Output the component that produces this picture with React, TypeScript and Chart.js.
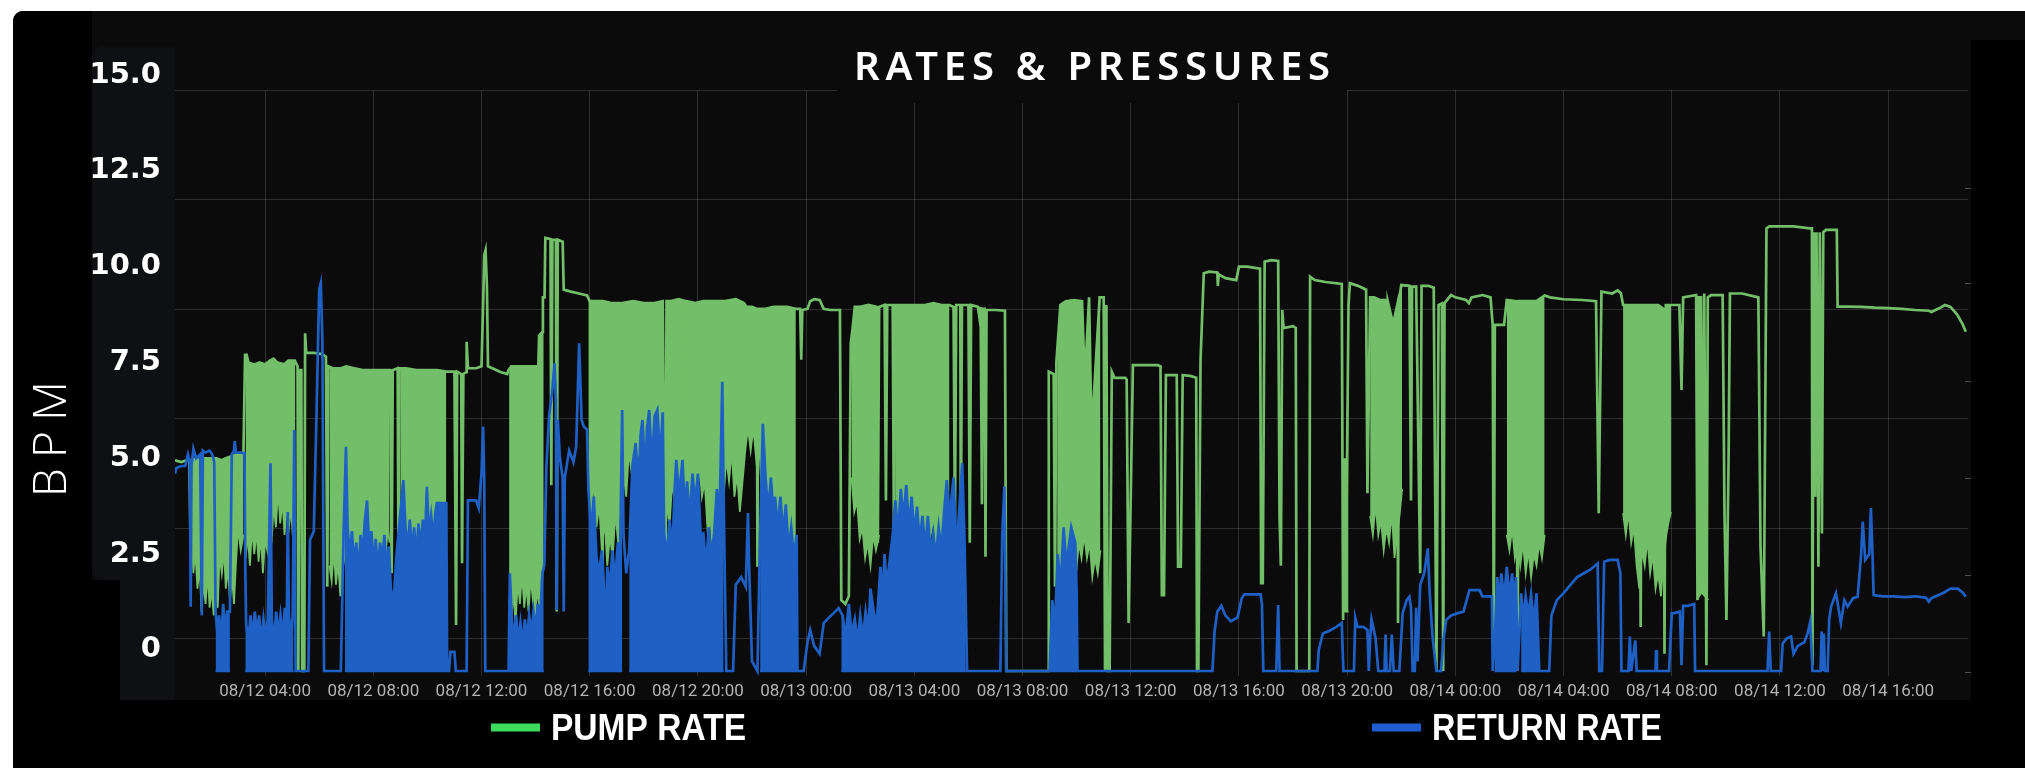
import React, { useEffect, useRef } from 'react';
import { Chart, registerables } from 'chart.js';

Chart.register(...registerables);

type P = [number, number | null];

// x: hours since 08/12 00:00
const xTickHours = [4, 8, 12, 16, 20, 24, 28, 32, 36, 40, 44, 48, 52, 56, 60, 64];
const yTickValues = [0, 2.5, 5, 7.5, 10, 12.5, 15];
const panelGridLevels = [0, 3, 6, 9, 12, 15];
const chartTitle = 'RATES & PRESSURES';
const yAxisTitle = 'BPM';
const seriesNames = ['PUMP RATE', 'RETURN RATE'];

// PUMP RATE trace (upper edge + spikes)
const pumpRate: P[] = [
  [0.67,4.95],[0.9,4.9],[1.1,4.95],[1.2,4.95],[1.24,3.0],[1.28,4.95],[1.45,5.0],[1.7,5.0],[1.95,5.0],[2.2,5.0],[2.4,4.95],[2.55,5.0],[2.75,5.05],[2.95,5.1],[3.2,5.1],[3.26,7.7],[3.32,7.7],[3.38,7.5],[3.6,7.45],[3.8,7.5],[4.0,7.45],[4.18,7.55],[4.31,7.6],[4.45,7.5],[4.7,7.45],[4.86,7.55],[5.1,7.55],[5.2,7.4],[5.23,-0.55],[5.27,7.3],[5.34,7.3],[5.37,-0.55],[5.45,-0.55],[5.48,8.26],[5.52,7.75],[5.8,7.75],[6.1,7.72],[6.25,7.65],[6.3,1.65],[6.34,7.4],[6.5,7.35],[6.8,7.35],[7.0,7.4],[7.3,7.35],[7.6,7.3],[8.0,7.3],[8.4,7.3],[8.62,7.3],[8.68,2.0],[8.72,7.3],[8.9,7.35],[8.93,2.4],[8.97,7.35],[9.2,7.35],[9.6,7.3],[10.0,7.3],[10.35,7.3],[10.7,7.26],[11.0,7.26],[11.06,0.65],[11.1,7.26],[11.25,7.2],[11.28,2.26],[11.33,7.2],[11.43,7.25],[11.45,8.04],[11.5,7.35],
  [11.8,7.35],[12.0,7.4],[12.06,9.0],[12.1,10.3],[12.15,10.43],[12.2,9.5],[12.24,7.4],[12.4,7.35],[12.7,7.25],[12.95,7.2],[13.0,7.3],[13.1,7.4],[13.5,7.4],[13.9,7.4],[14.1,7.4],[14.13,8.2],[14.25,8.3],[14.27,9.2],[14.33,9.2],[14.36,10.75],[14.55,10.72],[14.58,4.3],[14.62,10.7],[14.75,10.7],[14.78,1.0],[14.82,10.7],[15.0,10.65],[15.04,9.4],[15.3,9.35],[15.6,9.3],[15.9,9.25],[16.0,9.1],[16.4,9.1],[16.45,9.1],[16.47,-0.1],[16.5,9.1],[16.8,9.05],[16.84,0.87],[16.88,9.05],[17.2,9.05],[17.6,9.1],[18.0,9.05],[18.18,9.05],[18.2,1.1],[18.23,9.05],[18.4,9.05],[18.7,9.1],[18.8,1.3],[18.84,9.1],[19.0,9.1],[19.3,9.15],[19.53,9.1],[19.55,1.1],[19.58,9.1],[19.9,9.05],[20.2,9.1],[20.38,9.1],[20.4,2.1],[20.43,9.1],[20.6,9.1],[21.0,9.1],[21.4,9.15],[21.7,9.05],[21.8,8.95],[22.0,8.95],[22.18,8.9],[22.2,2.17],[22.23,8.9],[22.5,8.9],[22.8,8.95],
  [23.0,8.95],[23.3,8.95],[23.6,8.9],[23.78,8.9],[23.82,7.57],[23.86,8.87],[24.05,8.9],[24.15,9.1],[24.3,9.15],[24.5,9.13],[24.65,8.9],[24.9,8.87],[25.25,8.87],[25.3,1.3],[25.45,1.2],[25.58,1.4],[25.65,8.0],[25.72,8.4],[25.8,8.95],[26.0,8.95],[26.3,9.0],[26.6,8.95],[26.65,2.8],[26.7,8.95],[26.9,9.0],[26.95,3.9],[27.0,9.0],[27.2,9.0],[27.25,2.6],[27.3,9.0],[27.43,9.0],[27.45,0.17],[27.5,9.0],[27.8,9.0],[28.1,9.0],[28.4,9.0],[28.7,9.05],[29.0,9.0],[29.3,9.0],[29.45,8.95],[29.5,3.3],[29.55,9.0],[29.7,9.0],[29.72,2.6],[29.76,9.0],[30.0,9.0],[30.05,2.8],[30.1,9.0],[30.35,8.95],[30.4,8.7],[30.45,8.95],[30.5,3.8],[30.55,8.9],[30.6,8.9],[30.63,2.43],[30.67,8.87],[31.0,8.87],[31.35,8.85],[31.4,-0.55],[32.95,-0.55],[32.97,7.26],[33.15,7.2],[33.2,1.65],[33.25,7.5],[33.4,9.0],[33.6,9.1],[33.9,9.13],
  [34.2,9.1],[34.3,7.0],[34.46,9.2],[34.55,5.6],[34.7,7.4],[34.85,9.2],[35.0,9.2],[35.05,-0.55],[35.1,9.0],[35.15,-0.55],[35.22,-0.55],[35.3,7.26],[35.4,7.1],[35.8,7.1],[35.85,7.05],[35.92,0.7],[36.0,4.0],[36.08,7.43],[36.5,7.43],[37.0,7.43],[37.1,7.4],[37.15,1.43],[37.23,1.43],[37.3,7.17],[37.7,7.17],[37.75,2.17],[37.85,2.17],[37.92,7.17],[38.2,7.15],[38.42,7.1],[38.45,-0.55],[38.5,-0.55],[38.58,7.57],[38.7,9.83],[38.9,9.87],[39.2,9.85],[39.22,9.5],[39.25,9.8],[39.5,9.7],[39.9,9.65],[40.0,10.0],[40.3,10.0],[40.78,9.95],[40.82,1.74],[40.88,1.74],[40.95,10.13],[41.2,10.17],[41.45,10.15],[41.5,3.48],[41.55,2.2],[41.6,8.87],[41.65,8.4],[42.0,8.45],[42.1,8.4],[42.13,-0.55],[42.6,-0.55],[42.63,9.74],[42.8,9.65],[43.2,9.6],[43.8,9.55],[43.85,0.78],[43.9,5.0],[43.95,1.5],[44.05,9.0],[44.1,9.57],[44.4,9.5],[44.7,9.4],[44.75,4.09],[44.85,9.2],[45.0,9.2],
  [45.2,9.13],[45.4,9.13],[45.45,3.0],[45.5,9.1],[45.7,8.5],[45.85,9.0],[45.88,0.7],[45.92,9.1],[46.0,9.52],[46.3,9.5],[46.36,3.9],[46.4,9.48],[46.55,9.48],[46.7,2.0],[46.75,9.5],[47.0,9.5],[47.2,9.45],[47.3,-0.55],[47.38,9.0],[47.5,9.04],[47.55,-0.55],[47.6,9.05],[47.84,9.26],[48.0,9.2],[48.4,9.13],[48.5,9.05],[48.6,9.2],[49.0,9.26],[49.3,9.2],[49.38,8.48],[49.42,0.17],[49.46,8.48],[49.8,8.48],[49.9,9.13],[50.25,9.1],[50.3,-0.55],[50.35,9.1],[50.6,9.1],[51.0,9.1],[51.3,9.25],[51.5,9.2],[52.0,9.15],[52.7,9.13],[53.2,9.1],[53.3,3.57],[53.4,9.35],[53.8,9.3],[54.0,9.38],[54.12,9.3],[54.2,9.0],[54.5,9.0],[54.8,9.0],[54.85,0.6],[54.9,9.0],[55.2,9.0],[55.5,9.0],[55.7,8.9],[55.73,-0.1],[55.78,9.0],[56.0,9.0],
  [56.28,9.0],[56.36,6.78],[56.42,9.2],[56.9,9.26],[56.95,1.3],[57.0,9.2],[57.08,9.2],[57.12,2.0],[57.2,9.3],[57.28,-0.4],[57.33,9.2],[57.45,9.26],[57.88,9.26],[57.95,3.5],[58.02,0.78],[58.1,5.0],[58.15,9.3],[58.6,9.3],[59.2,9.2],[59.28,2.7],[59.4,0.35],[59.5,11.0],[59.6,11.05],[60.5,11.05],[61.1,11.0],[61.18,11.0],[61.2,-0.4],[61.25,10.9],[61.3,4.0],[61.35,10.9],[61.42,2.17],[61.47,10.9],[61.55,3.04],[61.6,10.9],[61.7,10.96],[62.1,10.96],[62.13,8.96],[62.5,8.96],[63.0,8.95],[63.5,8.93],[64.0,8.92],[64.5,8.9],[65.0,8.87],[65.5,8.85],[65.6,8.82],[65.9,8.92],[66.1,9.0],[66.3,8.95],[66.55,8.75],[66.75,8.5],[66.87,8.3],
];

// PUMP RATE lower edge of the dense oscillation stretches (null = no band)
const pumpRateLow: P[] = [
  [1.28,3.0],[1.35,2.0],[1.42,2.6],[1.5,1.6],[1.58,2.2],[1.65,1.0],[1.72,1.8],[1.8,1.2],[1.88,2.0],[1.95,1.1],[2.02,1.6],[2.1,0.9],[2.18,1.5],[2.25,1.1],[2.32,2.5],[2.4,2.0],[2.48,2.6],[2.55,1.6],[2.62,2.2],[2.7,1.3],[2.78,1.9],[2.85,1.2],[2.92,2.2],[3.0,3.2],[3.1,2.6],[3.2,3.0],[3.23,null],
  [3.28,2.4],[3.36,3.0],[3.44,2.2],[3.52,3.2],[3.6,2.5],[3.68,3.1],[3.76,2.3],[3.84,3.0],[3.92,2.0],[4.0,2.9],[4.08,2.6],[4.16,3.4],[4.24,2.8],[4.32,3.8],[4.4,3.2],[4.48,4.2],[4.56,3.3],[4.64,3.9],[4.72,3.0],[4.8,3.8],[4.88,3.2],[4.96,3.7],[5.04,2.8],[5.12,3.4],[5.15,null],
  [6.38,2.2],[6.46,1.8],[6.54,2.6],[6.62,1.7],[6.7,2.3],[6.78,1.4],[6.86,2.0],[6.94,2.6],[7.02,1.9],[7.1,2.5],[7.18,1.6],[7.26,2.2],[7.34,1.5],[7.42,2.8],[7.5,2.2],[7.58,3.1],[7.66,1.8],[7.74,1.2],[7.82,0.5],[7.9,1.6],[7.98,1.1],[8.06,2.0],[8.14,1.6],[8.22,2.6],[8.3,2.0],[8.38,3.0],[8.46,2.5],[8.54,3.2],[8.6,2.8],[8.8,null],
  [9.0,3.0],[9.08,2.4],[9.16,3.1],[9.24,2.3],[9.32,2.0],[9.4,2.6],[9.48,1.8],[9.56,2.4],[9.64,2.0],[9.72,2.8],[9.8,2.1],[9.88,2.7],[9.96,1.9],[10.04,2.5],[10.12,2.2],[10.2,3.0],[10.28,2.6],[10.36,3.6],[10.45,3.8],[10.55,3.6],[10.7,3.8],[10.8,null],
  [13.02,1.3],[13.1,0.8],[13.18,1.5],[13.26,0.7],[13.34,1.8],[13.42,1.2],[13.5,2.0],[13.58,1.1],[13.66,1.7],[13.74,1.0],[13.82,1.9],[13.9,1.3],[13.98,0.9],[14.06,1.6],[14.14,1.1],[14.22,1.8],[14.3,2.2],[14.4,null],
  [15.95,4.2],[16.05,3.6],[16.15,4.4],[16.25,3.2],[16.35,3.8],[16.45,2.6],[16.55,3.4],[16.65,2.2],[16.75,3.0],[16.85,2.4],[16.95,3.6],[17.05,2.8],[17.15,4.0],[17.25,4.6],[17.35,4.0],[17.45,5.2],[17.55,4.6],[17.65,5.6],[17.75,4.9],[17.85,5.4],[17.95,4.4],[18.05,3.8],[18.15,3.0],[18.25,3.6],[18.35,2.6],[18.45,3.2],[18.55,2.4],[18.65,3.4],[18.75,2.8],[18.85,3.8],[18.95,3.2],[19.05,4.4],[19.15,3.8],[19.25,4.6],[19.35,3.4],[19.45,4.0],[19.55,3.0],[19.65,3.8],[19.75,3.2],[19.85,4.4],[19.95,3.8],[20.05,4.8],[20.15,4.0],[20.25,4.4],[20.35,3.2],[20.45,3.6],[20.55,2.6],[20.65,3.2],[20.75,3.8],[20.85,4.6],[20.95,4.0],[21.05,5.0],[21.15,4.4],[21.25,5.2],[21.35,4.0],[21.45,4.6],[21.55,3.6],[21.65,4.4],[21.75,5.2],[21.85,5.8],[21.95,5.2],[22.05,5.8],[22.15,5.0],[22.25,5.6],[22.35,4.2],[22.45,3.6],[22.55,4.0],[22.65,2.8],[22.75,3.2],[22.85,1.8],[22.95,1.4],[23.05,2.4],[23.15,2.0],[23.25,3.0],[23.35,2.6],[23.45,3.2],[23.55,2.8],[23.62,3.0],[23.65,null],
  [25.68,4.5],[25.78,3.6],[25.88,3.9],[25.98,2.9],[26.08,3.2],[26.18,2.4],[26.28,2.8],[26.38,2.2],[26.48,3.0],[26.58,2.6],[26.7,3.0],[26.8,null],
  [27.3,2.2],[27.4,1.8],[27.5,2.4],[27.6,2.0],[27.7,2.8],[27.8,2.4],[27.9,3.2],[28.0,2.8],[28.1,3.6],[28.2,3.0],[28.3,3.6],[28.4,3.1],[28.5,3.7],[28.6,3.0],[28.7,3.4],[28.8,2.8],[28.9,3.3],[29.0,2.7],[29.1,3.2],[29.2,2.4],[29.3,2.8],[29.4,null],
  [33.28,1.65],[33.38,2.2],[33.48,1.6],[33.58,1.2],[33.68,2.0],[33.78,1.6],[33.88,2.4],[33.98,2.0],[34.08,2.8],[34.18,2.4],[34.28,3.0],[34.38,2.4],[34.48,2.8],[34.58,1.9],[34.68,2.4],[34.78,2.0],[34.88,2.6],[34.95,null],
  [43.82,1.0],[44.05,1.0],[44.08,null],
  [44.85,3.5],[44.95,3.0],[45.05,3.8],[45.15,3.0],[45.25,3.4],[45.35,2.6],[45.45,3.2],[45.55,2.8],[45.65,3.6],[45.75,2.4],[45.85,3.0],[45.95,3.6],[46.03,4.2],[46.06,null],
  [49.9,3.0],[50.0,2.6],[50.1,3.2],[50.2,2.4],[50.3,2.8],[50.4,2.2],[50.5,2.8],[50.6,2.0],[50.7,2.6],[50.8,1.9],[50.9,2.5],[51.0,2.2],[51.1,2.8],[51.2,2.4],[51.3,3.0],[51.35,null],
  [54.2,3.57],[54.3,3.0],[54.4,3.6],[54.5,2.8],[54.6,3.2],[54.7,2.2],[54.8,1.6],[54.9,2.6],[55.0,2.2],[55.1,2.9],[55.2,2.0],[55.3,2.5],[55.4,1.6],[55.5,2.0],[55.6,1.4],[55.7,2.4],[55.8,3.0],[55.9,3.4],[55.97,3.6],[56.0,null],
  [56.92,1.3],[57.1,1.5],[57.35,1.3],
];

// RETURN RATE trace
const returnRate: P[] = [
  [0.67,4.6],[0.72,4.75],[0.9,4.8],[1.05,4.8],[1.15,5.1],[1.22,4.9],[1.25,1.13],[1.28,4.8],[1.35,5.25],[1.45,5.0],[1.6,5.1],[1.66,0.9],[1.7,5.2],[1.8,5.15],[1.95,5.2],[2.05,5.1],[2.12,4.9],[2.17,1.0],[2.24,0.4],[2.3,0.9],[2.38,0.2],[2.45,1.2],[2.52,0.5],[2.6,1.0],[2.7,1.0],[2.77,5.1],[2.85,5.2],[2.88,5.45],[2.92,5.15],[3.1,5.15],[3.24,5.13],[3.27,2.0],[3.3,0.7],[3.38,0.2],[3.46,0.9],[3.54,0.3],[3.62,1.0],[3.7,0.4],[3.78,0.9],[3.86,0.2],[3.94,0.8],[4.02,0.3],[4.1,0.8],[4.2,4.87],[4.25,0.8],[4.33,0.2],[4.41,1.0],[4.49,0.4],[4.57,0.9],[4.65,0.3],[4.73,1.1],[4.8,0.6],[4.84,3.6],[4.88,0.9],[4.96,0.3],[5.02,0.9],[5.08,5.74],[5.13,-0.55],[5.6,-0.55],[5.66,2.87],[5.8,3.1],[5.9,6.1],[6.0,9.4],[6.06,9.57],[6.12,8.0],[6.18,-0.55],[6.8,-0.55],
  [6.9,3.0],[6.99,5.3],[7.05,3.2],[7.13,2.4],[7.21,3.1],[7.29,2.2],[7.37,2.8],[7.45,1.9],[7.53,3.0],[7.61,2.5],[7.69,3.4],[7.77,3.9],[7.85,2.6],[7.93,3.1],[8.01,2.2],[8.09,2.9],[8.17,2.0],[8.25,2.8],[8.33,2.3],[8.41,3.0],[8.49,2.0],[8.57,2.7],[8.65,1.6],[8.75,1.2],[8.85,2.4],[8.95,3.2],[9.03,3.8],[9.11,4.43],[9.19,3.2],[9.27,2.6],[9.35,3.4],[9.43,2.5],[9.51,3.2],[9.59,2.4],[9.67,3.3],[9.75,2.6],[9.83,3.4],[9.91,2.8],[9.98,4.26],[10.06,3.0],[10.14,3.5],[10.22,2.9],[10.3,3.6],[10.35,3.83],[10.7,3.83],[10.73,-0.55],[10.8,-0.55],[10.85,-0.05],[11.0,-0.05],[11.05,-0.55],[11.45,-0.55],[11.5,3.9],[11.8,3.9],[11.9,3.7],[12.0,4.6],[12.06,5.83],[12.1,4.5],[12.14,-0.55],[13.0,-0.55],
  [13.05,2.0],[13.12,0.8],[13.2,0.3],[13.28,0.9],[13.36,0.2],[13.44,0.7],[13.52,0.1],[13.6,0.8],[13.68,0.3],[13.76,0.9],[13.84,0.4],[13.92,1.0],[14.0,0.5],[14.08,1.2],[14.16,0.7],[14.25,2.0],[14.32,2.2],[14.4,4.8],[14.5,6.1],[14.62,6.8],[14.7,7.48],[14.75,6.5],[14.78,1.04],[14.82,6.0],[14.9,5.0],[15.0,4.5],[15.04,1.0],[15.08,4.5],[15.24,5.2],[15.4,4.9],[15.5,5.3],[15.61,8.0],[15.7,6.0],[15.78,5.83],[15.9,5.75],
  [15.95,4.26],[16.05,3.0],[16.15,4.0],[16.25,2.4],[16.35,2.0],[16.45,2.6],[16.55,1.4],[16.6,-0.1],[16.65,2.17],[16.75,1.6],[16.84,2.6],[16.94,1.8],[17.04,2.8],[17.12,2.2],[17.2,6.26],[17.25,3.0],[17.35,2.0],[17.46,2.6],[17.58,4.8],[17.7,5.4],[17.8,4.2],[17.88,5.6],[17.95,6.0],[18.05,4.6],[18.12,5.8],[18.2,6.26],[18.3,4.8],[18.4,6.1],[18.5,6.26],[18.6,5.0],[18.7,6.2],[18.75,3.04],[18.85,2.4],[18.95,3.4],[19.06,2.6],[19.14,4.2],[19.2,4.96],[19.3,4.0],[19.43,4.96],[19.52,3.6],[19.6,4.4],[19.7,3.4],[19.8,4.6],[19.9,3.8],[20.0,4.6],[20.1,3.0],[20.2,3.04],[20.3,2.2],[20.4,3.2],[20.5,2.4],[20.6,3.04],[20.7,4.2],[20.8,3.4],[20.9,7.0],[20.97,3.0],[21.05,-0.55],[21.3,-0.55],[21.4,1.7],[21.6,1.9],[21.77,1.65],[21.85,3.57],[21.9,2.0],[22.0,-0.3],[22.2,-0.55],
  [22.3,3.0],[22.4,5.9],[22.5,4.5],[22.6,3.6],[22.7,4.5],[22.8,3.4],[22.85,4.0],[22.95,3.2],[23.05,4.0],[23.15,3.0],[23.25,3.8],[23.35,2.6],[23.45,3.2],[23.55,2.4],[23.65,3.0],[23.68,-0.55],[23.91,-0.55],[24.05,0.2],[24.15,0.52],[24.3,0.1],[24.5,-0.1],[24.65,0.7],[24.85,0.85],[25.02,0.96],[25.2,1.09],[25.35,0.9],[25.45,0.3],[25.58,1.2],[25.68,0.4],[25.8,0.8],[25.9,0.2],[26.0,0.9],[26.1,0.3],[26.2,1.0],[26.3,0.5],[26.38,1.6],[26.5,1.0],[26.6,0.6],[26.75,2.17],[26.82,1.2],[26.9,2.5],[26.98,1.6],[27.06,2.17],
  [27.2,3.0],[27.3,3.9],[27.4,3.0],[27.5,4.2],[27.6,3.4],[27.7,4.3],[27.8,3.2],[27.9,4.0],[28.0,3.0],[28.1,3.74],[28.2,2.8],[28.3,3.5],[28.4,2.6],[28.5,3.5],[28.6,2.5],[28.7,3.04],[28.8,2.4],[28.9,3.2],[29.0,2.6],[29.1,3.6],[29.2,4.43],[29.3,3.4],[29.45,4.5],[29.52,3.2],[29.6,3.0],[29.77,4.87],[29.85,3.0],[29.95,-0.55],[31.18,-0.55],[31.25,3.0],[31.33,4.26],[31.4,-0.55],[33.0,-0.55],[33.1,1.3],[33.2,0.6],[33.3,2.5],[33.4,1.6],[33.52,3.2],[33.62,2.2],[33.8,3.2],[33.95,2.8],[34.0,1.5],[34.03,-0.55],
  [39.02,-0.55],[39.1,0.5],[39.2,1.0],[39.35,1.15],[39.5,0.9],[39.7,0.75],[39.95,0.85],[40.1,1.35],[40.2,1.45],[40.8,1.45],[40.85,1.2],[40.9,-0.55],[41.38,-0.55],[41.45,1.17],[41.5,-0.55],[42.9,-0.55],[42.95,0.0],[43.1,0.43],[43.35,0.5],[43.6,0.6],[43.8,0.7],[43.86,-0.55],[44.25,-0.55],[44.3,0.83],[44.38,0.6],[44.6,0.6],[44.75,0.52],[44.8,-0.55],[44.85,0.3],[44.9,0.8],[45.05,0.3],[45.15,-0.55],[45.38,-0.55],[45.42,0.4],[45.46,-0.55],[45.58,-0.55],[45.65,0.4],[45.72,-0.55],[45.93,-0.55],[46.05,0.96],[46.2,1.3],[46.3,1.39],[46.36,1.1],[46.42,-0.55],[46.5,-0.55],[46.55,1.1],[46.6,-0.3],[46.7,1.7],[46.85,2.0],[46.98,2.65],[47.05,1.5],[47.15,0.4],[47.3,-0.55],[47.47,-0.55],[47.55,0.2],[47.66,0.78],[47.84,0.9],[48.1,0.96],[48.3,1.0],[48.52,1.56],[48.9,1.56],[49.0,1.4],[49.35,1.4],[49.38,-0.55],
  [49.45,0.2],[49.55,1.9],[49.62,1.2],[49.7,2.0],[49.8,1.3],[49.9,2.17],[50.0,1.4],[50.1,2.0],[50.18,1.2],[50.24,1.9],[50.3,-0.55],[50.43,1.48],[50.52,0.8],[50.6,1.4],[50.7,0.9],[50.8,1.45],[50.9,0.7],[51.0,1.48],[51.1,-0.55],[51.47,-0.55],[51.55,0.9],[51.75,1.3],[52.0,1.48],[52.2,1.65],[52.5,1.9],[52.75,2.0],[53.0,2.1],[53.26,2.26],[53.32,-0.55],[53.42,-0.55],[53.5,2.3],[53.7,2.35],[54.0,2.35],[54.1,2.0],[54.14,-0.55],[54.4,-0.55],[54.45,0.35],[54.5,-0.55],[54.65,0.25],[54.7,-0.55],[55.4,-0.55],[55.42,0.0],[55.45,-0.55],[55.9,-0.55],[56.0,0.96],[56.1,0.96],[56.3,1.0],[56.36,-0.4],[56.42,1.15],[56.6,1.15],[56.83,1.2],[56.86,-0.55],[59.54,-0.55],[59.6,0.48],[59.66,-0.55],[60.04,-0.55],[60.1,0.17],[60.25,0.3],[60.41,0.35],[60.5,-0.1],[60.65,0.1],[60.9,0.2],[61.02,0.43],[61.12,0.74],[61.2,-0.55],[61.5,-0.55],[61.54,0.48],[61.58,-0.55],[61.62,0.43],[61.66,-0.55],[61.76,-0.55],[61.82,0.8],[61.89,1.13],[62.07,1.48],[62.25,0.7],[62.38,1.3],[62.5,1.13],[62.7,1.35],[62.87,1.39],[63.0,2.5],[63.06,3.35],[63.15,2.35],[63.3,2.5],[63.36,3.7],[63.42,2.5],[63.46,1.43],[63.8,1.4],[64.2,1.4],[64.6,1.38],[65.0,1.4],[65.4,1.36],[65.5,1.26],[65.6,1.35],[66.07,1.5],[66.3,1.6],[66.57,1.6],[66.75,1.5],[66.87,1.39],
];

// RETURN RATE lower edge of dense stretches (floor)
const returnRateLow: P[] = [
  [2.17,-0.55],[2.7,-0.55],[2.74,null],
  [3.27,-0.55],[5.05,-0.55],[5.1,null],
  [6.95,-0.55],[10.7,-0.55],[10.72,null],
  [13.03,-0.55],[14.3,-0.55],[14.35,null],
  [15.95,-0.55],[17.2,-0.55],[17.3,null],
  [17.46,-0.55],[20.95,-0.55],[21.0,null],
  [22.3,-0.55],[23.66,-0.55],[23.7,null],
  [25.3,-0.55],[29.9,-0.55],[29.95,null],
  [33.05,-0.55],[34.02,-0.55],[34.05,null],
  [49.45,-0.55],[50.25,-0.55],[50.3,null],
  [50.43,-0.55],[51.1,-0.55],
];

const GREEN = '#73BF69';
const BLUE = '#1F60C4';
const LEGEND_GREEN = '#3ddc5c';
const LEGEND_BLUE = '#1d5fd2';
const GRID = 'rgba(255,255,255,0.14)';
const PANEL = '#0b0b0c';

const toXY = (a: P[]) => a.map(([x, y]) => ({ x, y }));

function fmtHour(v: number): string {
  const day = 12 + Math.floor(v / 24);
  const h = Math.round(v - Math.floor(v / 24) * 24);
  return `08/${day} ${String(h).padStart(2, '0')}:00`;
}

function rr(ctx: CanvasRenderingContext2D, x: number, y: number, w: number, h: number, r: number | number[]) {
  ctx.beginPath();
  if ((ctx as any).roundRect) (ctx as any).roundRect(x, y, w, h, r);
  else ctx.rect(x, y, w, h);
  ctx.fill();
}

const decor = {
  id: 'decor',
  beforeDraw(chart: any) {
    const ctx: CanvasRenderingContext2D = chart.ctx;
    const W = chart.width, H = chart.height;
    ctx.save();
    ctx.fillStyle = '#ffffff';
    ctx.fillRect(0, 0, W, H);
    ctx.fillStyle = '#000000';
    rr(ctx, 13, 11, W, H, [10, 0, 0, 0]);
    ctx.fillStyle = PANEL;
    ctx.fillRect(92, 11, 1879, 689);
    ctx.fillRect(1971, 11, W - 1971, 29);
    ctx.fillStyle = '#0f1013';
    rr(ctx, 92, 47, 83, 533, [10, 0, 0, 10]);
    ctx.fillRect(120, 570, 55, 130);
    ctx.restore();
  },
  afterDraw(chart: any) {
    const ctx: CanvasRenderingContext2D = chart.ctx;
    ctx.save();
    // left black column
    ctx.fillStyle = '#000000';
    rr(ctx, 13, 11, 79, 569, [10, 0, 0, 0]);
    ctx.fillRect(13, 580, 107, 120);
    // right black box
    rr(ctx, 1971, 40, 80, 700, [8, 0, 0, 0]);
    // small remnant tick marks on the right edge
    ctx.strokeStyle = '#4a4a4a';
    ctx.lineWidth = 1;
    for (const y of [188, 283, 381, 478, 575, 672]) {
      ctx.beginPath();
      ctx.moveTo(1965, y + 0.5);
      ctx.lineTo(1971, y + 0.5);
      ctx.stroke();
    }
    // title box + title
    ctx.fillStyle = PANEL;
    rr(ctx, 837, 39, 510, 64, 12);
    ctx.fillStyle = '#ffffff';
    ctx.font = '600 40px "Noto Sans"';
    ctx.textAlign = 'left';
    ctx.textBaseline = 'alphabetic';
    (ctx as any).letterSpacing = '0px';
    const tw = ctx.measureText(chartTitle).width;
    const ls = (476 - tw) / (chartTitle.length - 1);
    (ctx as any).letterSpacing = `${ls}px`;
    ctx.fillText(chartTitle, 854, 80);
    (ctx as any).letterSpacing = '0px';

    // legend
    const items = [
      { name: seriesNames[0], color: LEGEND_GREEN, lx: 491, tx: 551, tw: 195 },
      { name: seriesNames[1], color: LEGEND_BLUE, lx: 1372, tx: 1432, tw: 230 },
    ];
    for (const it of items) {
      ctx.fillStyle = it.color;
      ctx.fillRect(it.lx, 723.5, 49, 8);
      ctx.fillStyle = '#ffffff';
      ctx.font = 'bold 37px "Liberation Sans"';
      const w = ctx.measureText(it.name).width;
      ctx.save();
      ctx.translate(it.tx, 740);
      ctx.scale(it.tw / w, 1);
      ctx.fillText(it.name, 0, 0);
      ctx.restore();
    }

    // y-axis title
    ctx.save();
    ctx.translate(49, 439);
    ctx.rotate(-Math.PI / 2);
    ctx.font = '300 46px "Open Sans"';
    ctx.fillStyle = '#ffffff';
    ctx.textAlign = 'center';
    (ctx as any).letterSpacing = '0px';
    const bw = ctx.measureText(yAxisTitle).width;
    const bls = Math.max(0, (116 - bw) / (yAxisTitle.length - 1));
    (ctx as any).letterSpacing = `${bls}px`;
    ctx.fillText(yAxisTitle, bls / 2, 17);
    ctx.restore();
    ctx.restore();
  },
};

export default function App() {
  const ref = useRef<HTMLCanvasElement | null>(null);
  useEffect(() => {
    if (!ref.current) return;
    const line = { pointRadius: 0, tension: 0, spanGaps: false, yAxisID: 'y', xAxisID: 'x' };
    const chart = new Chart(ref.current, {
      type: 'line',
      data: {
        datasets: [
          { ...line, label: seriesNames[1] + ' band', data: toXY(returnRateLow), borderColor: BLUE, borderWidth: 2.4, backgroundColor: BLUE, fill: 1, order: 0 },
          { ...line, label: seriesNames[1], data: toXY(returnRate), borderColor: BLUE, borderWidth: 2.7, backgroundColor: BLUE, fill: false, order: 1 },
          { ...line, label: seriesNames[0] + ' band', data: toXY(pumpRateLow), borderColor: GREEN, borderWidth: 1.8, backgroundColor: GREEN, fill: 3, order: 2 },
          { ...line, label: seriesNames[0], data: toXY(pumpRate), borderColor: GREEN, borderWidth: 2.7, backgroundColor: GREEN, fill: false, order: 3 },
        ] as any,
      },
      options: {
        responsive: false,
        devicePixelRatio: 1,
        animation: false,
        events: [],
        layout: { padding: { left: 0, top: 90, right: 57, bottom: 52 } },
        plugins: { legend: { display: false }, tooltip: { enabled: false }, title: { display: false } },
        scales: {
          x: {
            type: 'linear',
            min: 0.67,
            max: 66.95,
            afterBuildTicks: (s: any) => { s.ticks = xTickHours.map((value) => ({ value })); },
            afterFit: (s: any) => { s.height = 40; },
            grid: { color: GRID, drawTicks: false, lineWidth: 1 },
            border: { display: false },
            ticks: {
              autoSkip: false, maxRotation: 0, minRotation: 0, padding: 6, color: '#b3b3b3',
              font: { family: 'Roboto', size: 17 },
              callback: (v: any) => fmtHour(Number(v)),
            },
          },
          y: {
            type: 'linear',
            position: 'left',
            min: -0.68,
            max: 14.61,
            afterBuildTicks: (s: any) => { s.ticks = yTickValues.map((value) => ({ value })); },
            afterFit: (s: any) => { s.width = 175; },
            grid: { display: false, drawTicks: false },
            border: { display: false },
            ticks: {
              autoSkip: false, padding: 14, color: '#ffffff',
              font: { family: 'DejaVu Sans', size: 29, weight: 'bold' },
              callback: (v: any) => (Number(v) === 0 ? '0' : Number(v).toFixed(1)),
            },
          },
          yGrid: {
            type: 'linear',
            position: 'left',
            min: -1.04,
            max: 15,
            afterBuildTicks: (s: any) => { s.ticks = panelGridLevels.map((value) => ({ value })); },
            afterFit: (s: any) => { s.width = 0; },
            grid: { color: GRID, drawTicks: false, lineWidth: 1 },
            border: { display: false },
            ticks: { display: false },
          },
        } as any,
      },
      plugins: [decor],
    });
    return () => chart.destroy();
  }, []);
  return (
    <div style={{ position: 'fixed', left: 0, top: 0, width: 2025, height: 768, background: '#fff' }}>
      <canvas ref={ref} width={2025} height={768} style={{ width: 2025, height: 768, display: 'block' }} />
    </div>
  );
}
